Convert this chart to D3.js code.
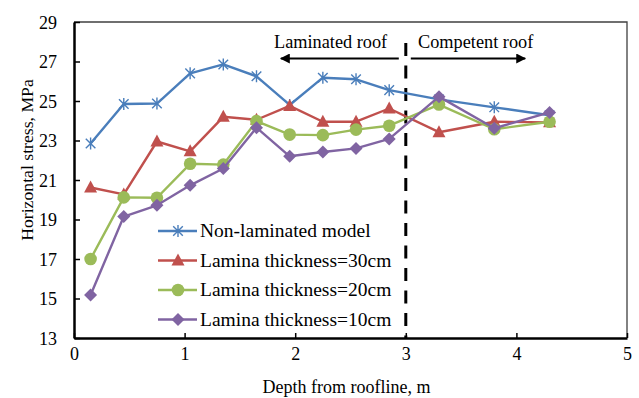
<!DOCTYPE html>
<html>
<head>
<meta charset="utf-8">
<script src="https://cdn.jsdelivr.net/npm/d3@7"></script>
<style>
  html, body { margin: 0; padding: 0; background: #fff; }
  svg { display: block; font-family: "Liberation Serif", "Times New Roman", serif; }
  svg text { font-family: "Liberation Serif", "Times New Roman", serif; }
</style>
</head>
<body>
<svg id="chart" width="639" height="398"></svg>
<script>
// Depth from roofline (m)
const depths = [0.15, 0.45, 0.75, 1.05, 1.35, 1.65, 1.95, 2.25, 2.55, 2.85, 3.3, 3.8, 4.3];

// Horizontal stress (MPa) per model
const nonLaminated = [22.85, 24.85, 24.87, 26.4, 26.85, 26.25, 24.8, 26.18, 26.1, 25.55, 25.08, 24.68, 24.28];
const lamina30 = [20.62, 20.27, 22.95, 22.45, 24.2, 24.05, 24.75, 23.95, 23.95, 24.62, 23.42, 23.95, 23.92];
const lamina20 = [17.0, 20.12, 20.1, 21.82, 21.78, 23.98, 23.3, 23.27, 23.55, 23.75, 24.82, 23.57, 23.95];
const lamina10 = [15.18, 19.15, 19.72, 20.73, 21.58, 23.65, 22.2, 22.42, 22.6, 23.08, 25.22, 23.62, 24.42];

const seriesNames = ["Non-laminated model", "Lamina thickness=30cm", "Lamina thickness=20cm", "Lamina thickness=10cm"];
const seriesValues = [nonLaminated, lamina30, lamina20, lamina10];
const seriesColors = ["#4a7ebb", "#c0504d", "#9bbb59", "#8064a2"];
const seriesMarkers = ["star", "triangle", "circle", "diamond"];

const xTicks = [0, 1, 2, 3, 4, 5];
const yTicks = [13, 15, 17, 19, 21, 23, 25, 27, 29];
const boundaryDepth = 3;

const svg = d3.select("#chart");
const plotLeft = 74, plotRight = 627, plotTop = 22, plotBottom = 338;
const serif = "Liberation Serif, Times New Roman, serif";

const x = d3.scaleLinear().domain([0, 5]).range([plotLeft, plotRight]);
const y = d3.scaleLinear().domain([13, 29]).range([plotBottom, plotTop]);

// Plot frame (top and right edges)
svg.append("path")
  .attr("d", `M${plotLeft},${plotTop}H${plotRight}V${plotBottom}`)
  .attr("fill", "none").attr("stroke", "#404040").attr("stroke-width", 1.3);

// Axes with inward ticks
const xAxis = svg.append("g").attr("transform", `translate(0,${plotBottom})`)
  .call(d3.axisBottom(x).tickValues(xTicks).tickFormat(d3.format("d"))
    .tickSizeInner(-5).tickSizeOuter(0).tickPadding(14));
const yAxis = svg.append("g").attr("transform", `translate(${plotLeft},0)`)
  .call(d3.axisLeft(y).tickValues(yTicks).tickFormat(d3.format("d"))
    .tickSizeInner(-6).tickSizeOuter(0).tickPadding(17));

[xAxis, yAxis].forEach(g => {
  g.attr("font-family", serif);
  g.select(".domain").attr("stroke", "#000").attr("stroke-width", 2.5);
  g.selectAll(".tick line").attr("stroke", "#000").attr("stroke-width", 1.5);
  g.selectAll(".tick text").attr("font-size", 18).attr("fill", "#000")
    .style("font-family", serif);
});
xAxis.selectAll(".tick text").attr("dy", "0.45em");
yAxis.selectAll(".tick text").attr("dy", "0.34em");

// Axis titles
svg.append("text")
  .attr("x", (plotLeft + plotRight) / 2 - 4).attr("y", 393)
  .attr("text-anchor", "middle").attr("font-size", 18)
  .text("Depth from roofline, m");
svg.append("text")
  .attr("transform", `translate(33,160) rotate(-90)`)
  .attr("text-anchor", "middle").attr("font-size", 17.7)
  .text("Horizontal stress, MPa");

// Boundary between laminated and competent roof
svg.append("line")
  .attr("x1", x(boundaryDepth)).attr("x2", x(boundaryDepth))
  .attr("y1", 43).attr("y2", plotBottom)
  .attr("stroke", "#000").attr("stroke-width", 3)
  .attr("stroke-dasharray", "13,9.5");

// Region arrows and labels
const defs = svg.append("defs");
defs.append("marker").attr("id", "arrowhead")
  .attr("viewBox", "0 0 10 10").attr("refX", 9).attr("refY", 5)
  .attr("markerWidth", 10).attr("markerHeight", 10)
  .attr("markerUnits", "userSpaceOnUse").attr("orient", "auto")
  .append("path").attr("d", "M0,0L10,5L0,10Z").attr("fill", "#000");

svg.append("line")
  .attr("x1", x(boundaryDepth) - 7).attr("x2", x(1.87))
  .attr("y1", 58.5).attr("y2", 58.5)
  .attr("stroke", "#000").attr("stroke-width", 2)
  .attr("marker-end", "url(#arrowhead)");
svg.append("line")
  .attr("x1", x(boundaryDepth) + 5).attr("x2", x(4.08))
  .attr("y1", 58.5).attr("y2", 58.5)
  .attr("stroke", "#000").attr("stroke-width", 2)
  .attr("marker-end", "url(#arrowhead)");

svg.append("text").attr("x", 274).attr("y", 47.5)
  .attr("font-size", 18.3).text("Laminated roof");
svg.append("text").attr("x", 418).attr("y", 47.5)
  .attr("font-size", 18.3).text("Competent roof");

// Marker drawing
function drawMarker(g, type, color) {
  if (type === "star") {
    const r = 6;
    const d = r * 0.8;
    g.append("path")
      .attr("d", `M${-d},${-d}L${d},${d}M${-d},${d}L${d},${-d}M0,${-r}V${r}`)
      .attr("stroke", color).attr("stroke-width", 1.4).attr("fill", "none");
  } else if (type === "triangle") {
    g.append("path").attr("d", "M0,-7L6.5,5L-6.5,5Z").attr("fill", color);
  } else if (type === "circle") {
    g.append("circle").attr("r", 6.3).attr("fill", color);
  } else if (type === "diamond") {
    g.append("path").attr("d", "M0,-6.5L6.5,0L0,6.5L-6.5,0Z").attr("fill", color);
  }
}

const line = d3.line().x(d => x(d[0])).y(d => y(d[1]));

seriesValues.forEach((vals, i) => {
  const pts = depths.map((d, j) => [d, vals[j]]);
  const g = svg.append("g");
  g.append("path").datum(pts)
    .attr("d", line).attr("fill", "none")
    .attr("stroke", seriesColors[i]).attr("stroke-width", 2.4)
    .attr("stroke-linejoin", "round");
  pts.forEach(p => {
    const m = g.append("g").attr("transform", `translate(${x(p[0])},${y(p[1])})`);
    drawMarker(m, seriesMarkers[i], seriesColors[i]);
  });
});

// Legend
const legend = svg.append("g");
const legendRows = [231, 260.5, 290, 319.5];
seriesNames.forEach((name, i) => {
  const row = legend.append("g").attr("transform", `translate(0,${legendRows[i]})`);
  row.append("line").attr("x1", 158).attr("x2", 197).attr("y1", 0).attr("y2", 0)
    .attr("stroke", seriesColors[i]).attr("stroke-width", 2.4);
  const m = row.append("g").attr("transform", "translate(178,0)");
  drawMarker(m, seriesMarkers[i], seriesColors[i]);
  row.append("text").attr("x", 200).attr("y", 0).attr("dy", "0.33em")
    .attr("font-size", 19.5).text(name);
});
</script>
</body>
</html>
